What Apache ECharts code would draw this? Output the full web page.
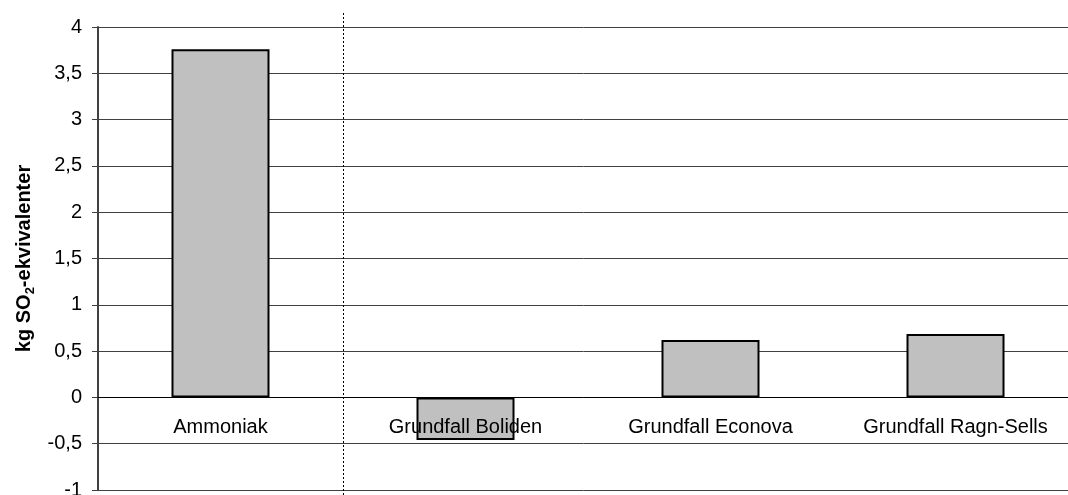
<!DOCTYPE html>
<html>
<head>
<meta charset="utf-8">
<script src="https://cdn.jsdelivr.net/npm/echarts@6/dist/echarts.min.js"></script>
<style>
html,body{margin:0;padding:0;background:#fff;}
#c{width:1068px;height:495px;}
</style>
</head>
<body>
<div id="c"></div>
<script>
const categories = ['Ammoniak', 'Grundfall Boliden', 'Grundfall Econova', 'Grundfall Ragn-Sells'];
const values = [3.76, -0.46, 0.62, 0.685];
const yMin = -1, yMax = 4, yStep = 0.5;
const separatorAt = 1;
const yTitle = '{a|kg SO}{s|2}{a|-ekvivalenter}';

const FONT = '"Liberation Sans", Arial, sans-serif';
const chart = echarts.init(document.getElementById('c'), null, {renderer: 'canvas'});
chart.setOption({
  animation: false,
  backgroundColor: '#fff',
  grid: [
    {left: 98, right: -10, top: 27, bottom: 5, outerBoundsMode: 'none', containLabel: false},
    {left: 98, right: -10, top: 12, bottom: 0, outerBoundsMode: 'none', containLabel: false}
  ],
  xAxis: [
    {
      type: 'category', data: categories, gridIndex: 0, position: 'bottom', offset: 0, z: 10,
      axisLine: {show: true, onZero: false, lineStyle: {color: '#000', width: 1}},
      axisTick: {show: false},
      axisLabel: {color: '#000', fontSize: 20, fontFamily: FONT, margin: 20, interval: 0},
      splitLine: {show: false}
    },
    {
      type: 'value', gridIndex: 1, min: 0, max: categories.length, show: false,
      splitLine: {show: false}
    }
  ],
  yAxis: [
    {
      type: 'value', min: yMin, max: yMax, interval: yStep, gridIndex: 0,
      name: yTitle, nameLocation: 'middle', nameGap: 58, nameRotate: 90,
      nameTextStyle: {
        rich: {
          a: {fontSize: 20, fontWeight: 'bold', fontFamily: FONT, color: '#000', lineHeight: 24},
          s: {fontSize: 13, fontWeight: 'bold', fontFamily: FONT, color: '#000', lineHeight: 14, verticalAlign: 'bottom'}
        }
      },
      axisLine: {show: true, onZero: false, lineStyle: {color: '#404040', width: 2}},
      axisTick: {show: true, length: 6, lineStyle: {color: '#404040', width: 1}},
      axisLabel: {color: '#000', fontSize: 20, fontFamily: FONT, margin: 16,
        formatter: function (v) { return String(v).replace('.', ','); }},
      splitLine: {show: true, lineStyle: {color: '#404040', width: 1}}
    },
    {
      type: 'value', gridIndex: 1, min: 0, max: 1, show: false, splitLine: {show: false}
    }
  ],
  series: [
    {
      type: 'bar', data: values, xAxisIndex: 0, yAxisIndex: 0,
      barWidth: '40%',
      itemStyle: {color: '#c0c0c0', borderColor: '#000', borderWidth: 2}
    },
    {
      type: 'line', data: [], xAxisIndex: 1, yAxisIndex: 1,
      markLine: {
        silent: true, symbol: 'none', label: {show: false},
        lineStyle: {color: '#000', type: [2, 2], width: 1},
        data: [{xAxis: separatorAt}]
      }
    }
  ]
});
// Place the category axis on the value axis' zero, using the library's own scale.
const zeroY = chart.convertToPixel({yAxisIndex: 0}, 0);
const bottomY = chart.convertToPixel({yAxisIndex: 0}, yMin);
chart.setOption({xAxis: [{offset: -(bottomY - zeroY)}, {}]});
</script>
</body>
</html>
